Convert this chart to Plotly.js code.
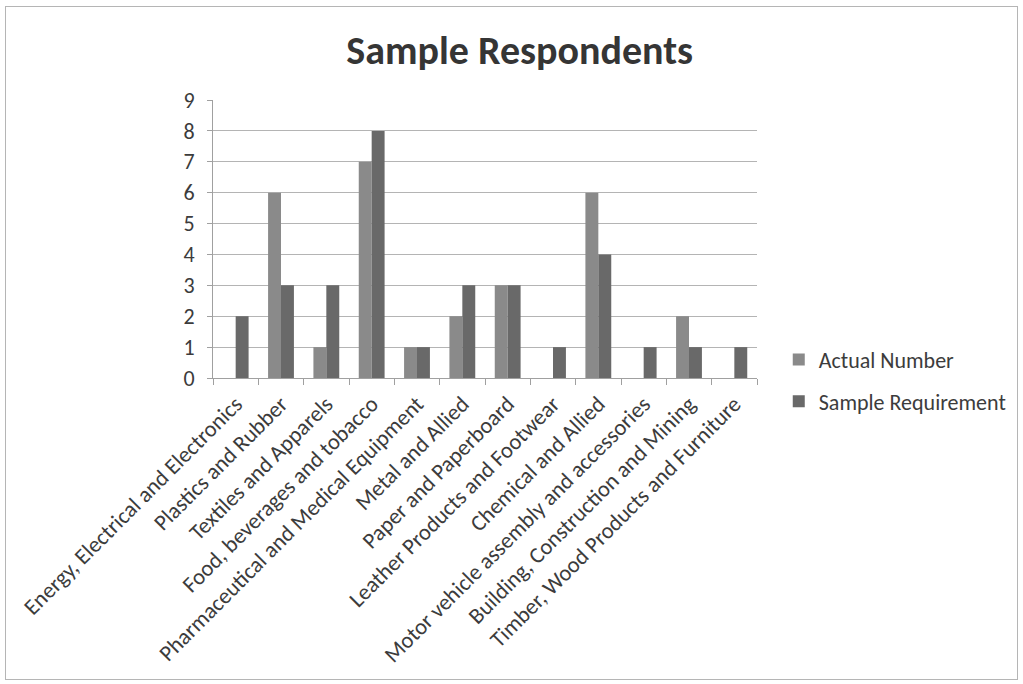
<!DOCTYPE html>
<html>
<head>
<meta charset="utf-8">
<script src="https://cdn.plot.ly/plotly-3.0.1.min.js"></script>
<style>
  html, body { margin: 0; padding: 0; background: #ffffff; }
  #chart { position: absolute; left: 0; top: 0; width: 1023px; height: 684px; }
  #frame { position: absolute; left: 5px; top: 6px; width: 1011px; height: 672px;
           border: 1px solid #b5b5b5; pointer-events: none; }
</style>
</head>
<body>
<div id="chart"></div>
<div id="frame"></div>
<script>
// Industry sectors and respondent counts
const sectors = [
  "Energy, Electrical and Electronics",
  "Plastics and Rubber",
  "Textiles and Apparels",
  "Food, beverages and tobacco",
  "Pharmaceutical and Medical Equipment",
  "Metal and Allied",
  "Paper and Paperboard",
  "Leather Products and Footwear",
  "Chemical and Allied",
  "Motor vehicle assembly and accessories",
  "Building, Construction and Mining",
  "Timber, Wood Products and Furniture"
];
const actualNumber      = [0, 6, 1, 7, 1, 2, 3, 0, 6, 0, 2, 0];
const sampleRequirement = [2, 3, 3, 8, 1, 3, 3, 1, 4, 1, 1, 1];
const yTicks = [0, 1, 2, 3, 4, 5, 6, 7, 8, 9];

const font = "Carlito, Lato, 'Open Sans', sans-serif";

const traces = [
  { type: "bar", name: "Actual Number", x: sectors, y: actualNumber,
    legendgroup: "a", marker: { color: "#8a8a8a" } },
  { type: "bar", name: "Sample Requirement", x: sectors, y: sampleRequirement,
    legendgroup: "b", marker: { color: "#696969" } }
];

const layout = {
  width: 1023, height: 684,
  margin: { l: 213, r: 263, t: 100, b: 306 },
  paper_bgcolor: "#ffffff", plot_bgcolor: "#ffffff",
  title: { text: "<b>Sample Respondents</b>", x: 0.508, xref: "container", xanchor: "center",
           y: 0.927, yref: "container", yanchor: "middle",
           font: { family: font, size: 40, color: "#353535" } },
  barmode: "group", bargap: 0.43, bargroupgap: 0,
  font: { family: font, color: "#444444" },
  xaxis: {
    type: "category", tickangle: -45, tickson: "boundaries",
    ticks: "outside", ticklen: 6, tickcolor: "#a0a0a0",
    showline: true, linecolor: "#a0a0a0", linewidth: 1,
    showgrid: false, tickfont: { family: font, size: 22.5, color: "#3c3c3c" },
    ticklabelstandoff: 3
  },
  yaxis: {
    range: [0, 9], tickvals: yTicks, ticktext: yTicks.map(String),
    ticks: "outside", ticklen: 5, tickcolor: "#a0a0a0",
    showline: true, linecolor: "#a0a0a0", linewidth: 1,
    showgrid: true, gridcolor: "#b4b4b4", gridwidth: 1, zeroline: false,
    tickfont: { family: font, size: 22, color: "#3c3c3c" },
    ticklabelstandoff: 8
  },
  legend: {
    x: 1.04, xanchor: "left", y: -0.01, yanchor: "middle",
    traceorder: "grouped", tracegroupgap: 10,
    font: { family: font, size: 22, color: "#3c3c3c" },
    itemwidth: 30, bgcolor: "rgba(0,0,0,0)"
  },
  showlegend: true
};

Plotly.newPlot("chart", traces, layout, { displayModeBar: false, staticPlot: true });
</script>
</body>
</html>
